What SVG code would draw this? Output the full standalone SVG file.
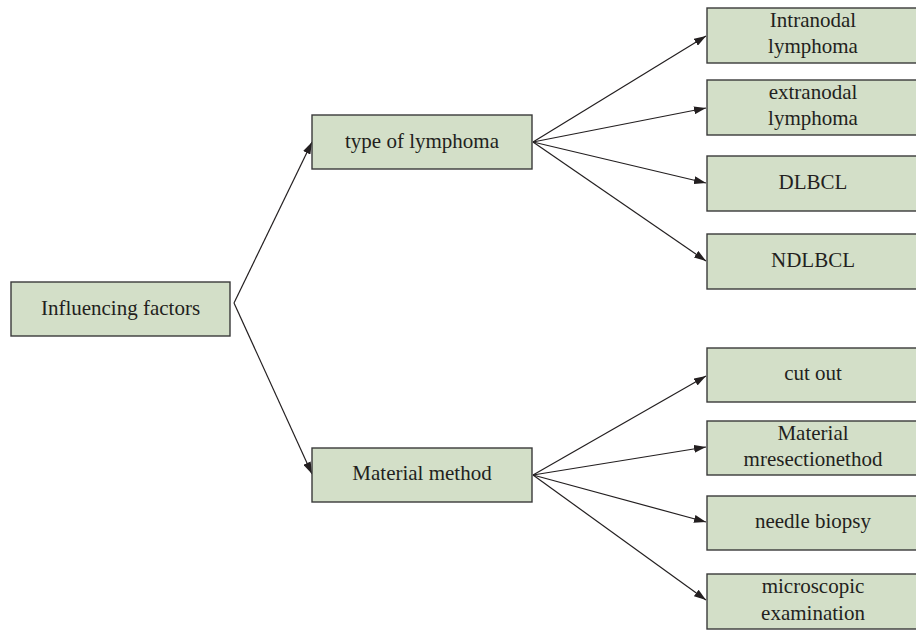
<svg xmlns="http://www.w3.org/2000/svg" width="916" height="631" viewBox="0 0 916 631">
<style>
.box{fill:#d3dfc8;stroke:#3a3a3a;stroke-width:1.4}
.t{font-family:"Liberation Serif","Times New Roman",serif;font-size:21px;fill:#231f20;text-anchor:middle}
.c{stroke:#231f20;stroke-width:1.2;fill:none;marker-end:url(#ah)}
</style>
<defs>
<marker id="ah" viewBox="0 0 12 8" refX="12" refY="4" markerWidth="12" markerHeight="8" markerUnits="userSpaceOnUse" orient="auto">
<path d="M0,0 L12,4 L0,8 Z" fill="#231f20"/>
</marker>
</defs>
<rect width="916" height="631" fill="#ffffff"/>
<g id="connectors">
<path class="c" d="M234,303 L312,142"/>
<path class="c" d="M234,303 L312,474"/>
<path class="c" d="M533,142 L706,36"/>
<path class="c" d="M533,142 L706,108"/>
<path class="c" d="M533,142 L706,183"/>
<path class="c" d="M533,142 L706,261"/>
<path class="c" d="M533,475 L706,376"/>
<path class="c" d="M533,475 L706,447"/>
<path class="c" d="M533,475 L706,522"/>
<path class="c" d="M533,475 L706,600"/>
</g>
<g id="n-influencing"><rect class="box" x="11" y="282" width="219" height="54"/><text class="t" x="120.5" y="315">Influencing factors</text></g>
<g id="n-type"><rect class="box" x="312" y="115" width="220" height="54"/><text class="t" x="422" y="148">type of lymphoma</text></g>
<g id="n-material"><rect class="box" x="312" y="448" width="220" height="54"/><text class="t" x="422" y="480">Material method</text></g>
<g id="n-intranodal"><rect class="box" x="707" y="8" width="215" height="55"/><text class="t" x="813" y="27">Intranodal</text><text class="t" x="813" y="53">lymphoma</text></g>
<g id="n-extranodal"><rect class="box" x="707" y="80" width="215" height="55"/><text class="t" x="813" y="99">extranodal</text><text class="t" x="813" y="125">lymphoma</text></g>
<g id="n-dlbcl"><rect class="box" x="707" y="156" width="215" height="55"/><text class="t" x="813" y="189">DLBCL</text></g>
<g id="n-ndlbcl"><rect class="box" x="707" y="234" width="215" height="55"/><text class="t" x="813" y="267">NDLBCL</text></g>
<g id="n-cutout"><rect class="box" x="707" y="348" width="215" height="54"/><text class="t" x="813" y="380">cut out</text></g>
<g id="n-resection"><rect class="box" x="707" y="421" width="215" height="54"/><text class="t" x="813" y="440">Material</text><text class="t" x="813" y="466">mresectionethod</text></g>
<g id="n-needle"><rect class="box" x="707" y="496" width="215" height="54"/><text class="t" x="813" y="528">needle biopsy</text></g>
<g id="n-micro"><rect class="box" x="707" y="574" width="215" height="55"/><text class="t" x="813" y="593">microscopic</text><text class="t" x="813" y="620">examination</text></g>
</svg>
